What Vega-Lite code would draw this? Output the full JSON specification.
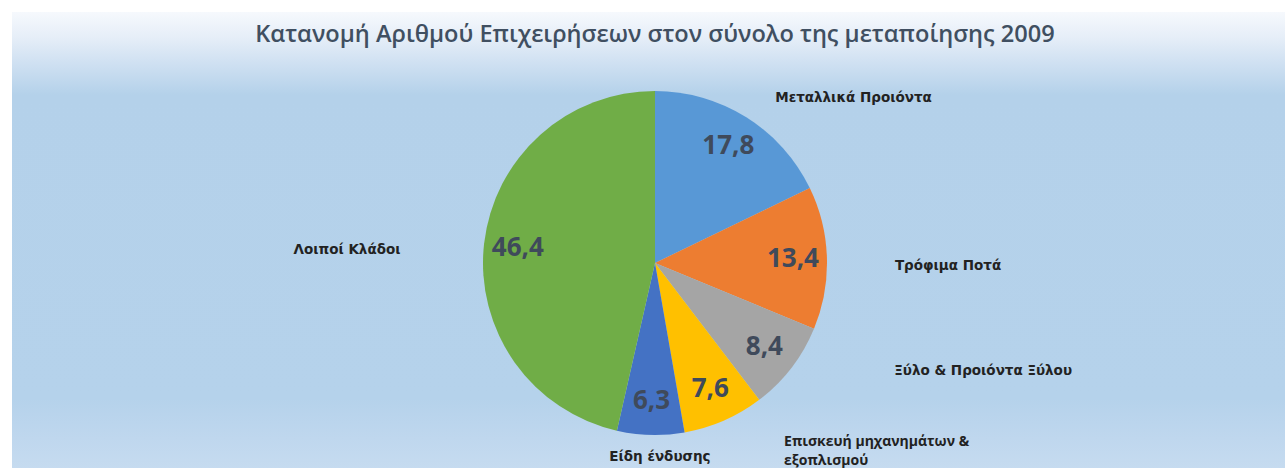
{
  "$schema": "https://vega.github.io/schema/vega-lite/v6.json",
  "autosize": "none",
  "padding": {"top": 12, "left": 12, "right": 0, "bottom": 0},
  "width": 1286,
  "height": 502,
  "background": "white",
  "view": {
    "stroke": null,
    "fill": {
      "gradient": "linear", "x1": 0, "y1": 0, "x2": 0, "y2": 1,
      "stops": [
        {"offset": 0, "color": "#f6f9fd"},
        {"offset": 0.05, "color": "#e6eef8"},
        {"offset": 0.1, "color": "#d0e1f2"},
        {"offset": 0.165, "color": "#b4d1ea"},
        {"offset": 0.77, "color": "#b5d2eb"},
        {"offset": 0.85, "color": "#bfd7ee"},
        {"offset": 0.92, "color": "#c7dcf0"},
        {"offset": 1, "color": "#c9def1"}
      ]
    }
  },
  "title": {
    "text": "Κατανομή Αριθμού Επιχειρήσεων στον σύνολο της μεταποίησης 2009",
    "offset": -35,
    "anchor": "middle",
    "font": "Open Sans",
    "fontSize": 23.6,
    "fontWeight": 600,
    "color": "#404f61"
  },
  "config": {
    "locale": {"number": {"decimal": ",", "thousands": ".", "grouping": [3], "currency": ["", " €"]}}
  },
  "data": {
    "values": [
      {"k": 1, "name": "Μεταλλικά Προιόντα", "value": 17.8},
      {"k": 2, "name": "Τρόφιμα Ποτά", "value": 13.4},
      {"k": 3, "name": "Ξύλο & Προιόντα Ξύλου", "value": 8.4},
      {"k": 4, "name": "Επισκευή μηχανημάτων & εξοπλισμού", "value": 7.6},
      {"k": 5, "name": "Είδη ένδυσης", "value": 6.3},
      {"k": 6, "name": "Λοιποί Κλάδοι", "value": 46.4}
    ]
  },
  "encoding": {
    "theta": {"field": "value", "type": "quantitative", "stack": true},
    "order": {"field": "k", "type": "quantitative"}
  },
  "layer": [
    {
      "mark": {"type": "arc", "outerRadius": 172, "strokeWidth": 0},
      "encoding": {
        "color": {
          "field": "name", "type": "nominal", "legend": null,
          "scale": {
            "domain": ["Μεταλλικά Προιόντα", "Τρόφιμα Ποτά", "Ξύλο & Προιόντα Ξύλου", "Επισκευή μηχανημάτων & εξοπλισμού", "Είδη ένδυσης", "Λοιποί Κλάδοι"],
            "range": ["#5898d6", "#ed7d31", "#a5a5a5", "#ffc000", "#4472c4", "#70ad47"]
          }
        }
      }
    },
    {
      "mark": {"type": "text", "radius": 138, "font": "Open Sans", "fontSize": 26, "fontWeight": "bold", "color": "#3f4a5b"},
      "encoding": {"text": {"field": "value", "type": "quantitative", "format": ".1f"}}
    },
    {
      "mark": {"type": "text", "radius": 200, "align": "left", "dx": 14, "dy": 4, "font": "DejaVu Sans", "fontSize": 13.5, "fontWeight": "bold", "color": "#222222"},
      "encoding": {"text": {"condition": {"test": "datum.k === 1", "field": "name"}, "value": ""}}
    },
    {
      "mark": {"type": "text", "radius": 240, "align": "left", "dx": 0, "dy": 10, "font": "DejaVu Sans", "fontSize": 13.5, "fontWeight": "bold", "color": "#222222"},
      "encoding": {"text": {"condition": {"test": "datum.k === 2", "field": "name"}, "value": ""}}
    },
    {
      "mark": {"type": "text", "radius": 240, "align": "left", "dx": 49, "dy": -38, "font": "DejaVu Sans", "fontSize": 13.5, "fontWeight": "bold", "color": "#222222"},
      "encoding": {"text": {"condition": {"test": "datum.k === 3", "field": "name"}, "value": ""}}
    },
    {
      "mark": {"type": "text", "radius": 200, "align": "left", "dx": 49, "dy": -4, "lineHeight": 19, "font": "Open Sans", "fontSize": 14, "fontWeight": "bold", "color": "#222222"},
      "encoding": {"text": {"condition": {"test": "datum.k === 4", "value": ["Επισκευή μηχανημάτων &", "εξοπλισμού"]}, "value": ""}}
    },
    {
      "mark": {"type": "text", "radius": 200, "align": "center", "dx": 10, "dy": -6, "font": "DejaVu Sans", "fontSize": 13.5, "fontWeight": "bold", "color": "#222222"},
      "encoding": {"text": {"condition": {"test": "datum.k === 5", "field": "name"}, "value": ""}}
    },
    {
      "mark": {"type": "text", "radius": 240, "align": "right", "dx": -16, "dy": 14, "font": "DejaVu Sans", "fontSize": 13.5, "fontWeight": "bold", "color": "#222222"},
      "encoding": {"text": {"condition": {"test": "datum.k === 6", "field": "name"}, "value": ""}}
    }
  ]
}
